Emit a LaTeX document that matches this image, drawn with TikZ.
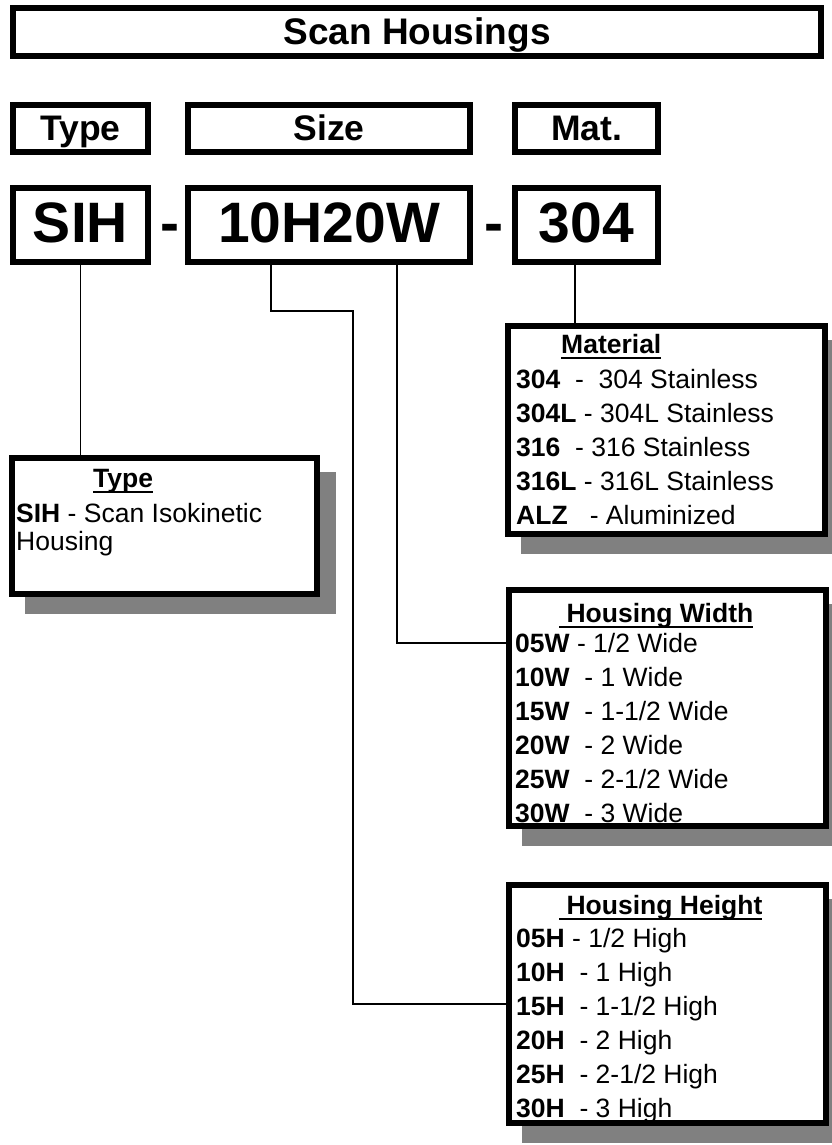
\documentclass[tikz,border=0pt]{standalone}
\usepackage{fontspec}
\setmainfont{Liberation Sans}
\usetikzlibrary{shadows}
\newcommand{\hdline}[1]{\setbox0\hbox{#1}\rlap{\rule[-6pt]{\wd0}{2pt}}\box0}

\begin{document}
\begin{tikzpicture}[
      x=1pt, y=-1pt,
      heavy/.style={draw, line width=6pt, inner sep=0pt},
      titlebox/.style={heavy, minimum width=808pt, minimum height=48pt,
        font=\fontsize{37}{40}\selectfont\bfseries, text height=26.5pt, text depth=0.5pt},
      headbox/.style={heavy, minimum height=47pt,
        font=\fontsize{35.5}{38}\selectfont\bfseries, text height=25.5pt, text depth=2.5pt},
      codebox/.style={heavy, minimum height=74pt,
        font=\fontsize{57}{60}\selectfont\bfseries, text height=41pt, text depth=7pt},
      dashsign/.style={inner sep=0pt,
        font=\fontsize{57}{60}\selectfont\bfseries, text height=41pt, text depth=7pt},
      infobox/.style={heavy, fill=white, minimum width=317pt,
        drop shadow={shadow xshift=16pt, shadow yshift=-17pt, opacity=1,
          fill=black!50, draw=black!50, line width=6pt}},
      infotext/.style={anchor=north west, inner sep=0pt, align=left,
        font=\fontsize{26.5}{34}\selectfont},
      link/.style={line width=1.2pt},
    ]
    \useasboundingbox (0,0) rectangle (831,1145);
    \node[titlebox] (title) at (417,32) {Scan Housings};
    \node[headbox, minimum width=135pt] (typehd) at (80.5,128.5) {Type};
    \node[headbox, minimum width=282pt] (sizehd) at (329,128.5) {Size};
    \node[headbox, minimum width=143pt] (mathd) at (586.5,128.5) {Mat.};
    \node[codebox, minimum width=135pt] (sih) at (80.5,225) {SIH};
    \node[dashsign] (dash1) at (169.5,225) {-};
    \node[codebox, minimum width=282pt] (size) at (329,225) {10H20W};
    \node[dashsign] (dash2) at (494,225) {-};
    \node[codebox, minimum width=143pt] (mat) at (586.5,225) {304};

    \node[infobox, minimum width=305pt, minimum height=136pt] (typeinfo) at (164.5,526) {};
    \node[infobox, minimum height=208pt] (matinfo) at (666.5,430) {};
    \node[infobox, minimum height=236pt] (widinfo) at (667.5,708) {};
    \node[infobox, minimum height=238pt] (hgtinfo) at (667,1004) {};

    \node[infotext, font=\fontsize{26.5}{28}\selectfont] (typetext) at (16,467.4)
      {\strut\hspace*{77pt}\hdline{\textbf{Type}}\\[7pt]
       \textbf{SIH} - Scan Isokinetic\\ Housing};
    \node[infotext] (mattext) at (516,329.2)
      {\strut\hspace*{45pt}\hdline{\textbf{Material}}\\[1pt]
       \textbf{304}~~-~~304 Stainless\\
       \textbf{304L} - 304L Stainless\\
       \textbf{316}~~- 316 Stainless\\
       \textbf{316L} - 316L Stainless\\
       \textbf{ALZ}~~~- Aluminized};
    \node[infotext] (widtext) at (515,598.2)
      {\strut\hspace*{44pt}\hdline{\textbf{\ Housing Width}}\\[-4pt]
       \textbf{05W} - 1/2 Wide\\
       \textbf{10W}~~- 1 Wide\\
       \textbf{15W}~~- 1-1/2 Wide\\
       \textbf{20W}~~- 2 Wide\\
       \textbf{25W}~~- 2-1/2 Wide\\
       \textbf{30W}~~- 3 Wide};
    \node[infotext] (hgttext) at (516,890.2)
      {\strut\hspace*{43pt}\hdline{\textbf{\ Housing Height}}\\[-1pt]
       \textbf{05H} - 1/2 High\\
       \textbf{10H}~~- 1 High\\
       \textbf{15H}~~- 1-1/2 High\\
       \textbf{20H}~~- 2 High\\
       \textbf{25H}~~- 2-1/2 High\\
       \textbf{30H}~~- 3 High};

    \coordinate (hgtdrop) at ([xshift=-58pt]size.south);
    \coordinate (widdrop) at ([xshift=68pt]size.south);
    \coordinate (matdrop) at ([xshift=-11.5pt]mat.south);
    \coordinate (widjoin) at ([yshift=65pt]widinfo.west);
    \draw[link] (sih.south) -- (sih.south |- typeinfo.north);
    \draw[link] (hgtdrop) -- ++(0,46) -- ++(82,0) |- (hgtinfo.west);
    \draw[link] (widdrop) |- (widjoin);
    \draw[link] (matdrop) -- (matdrop |- matinfo.north);
  \end{tikzpicture}
\end{document}
